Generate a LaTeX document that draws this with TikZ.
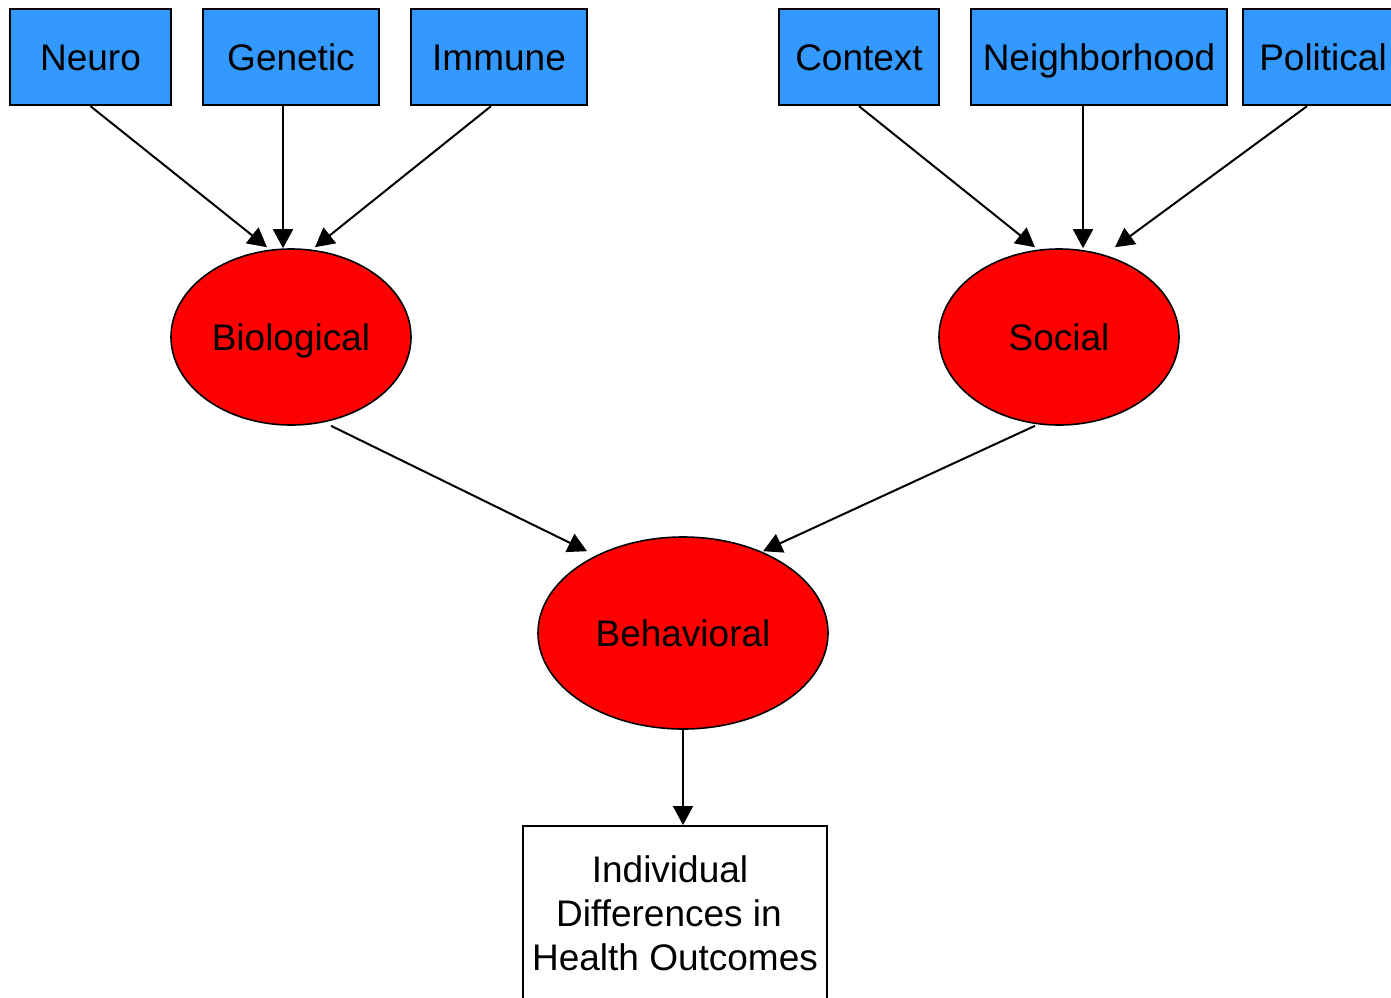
\documentclass[tikz,border=0pt]{standalone}
\usepackage{fontspec}
\setmainfont{Liberation Sans}
\usepackage{tikz}
\usetikzlibrary{positioning,arrows.meta,calc,shapes.geometric}
\usepackage{xcolor}
\definecolor{boxblue}{HTML}{3399FF}
\definecolor{ovalred}{HTML}{FF0000}

\begin{document}
\begin{tikzpicture}[
  x=0.5pt,y=-0.5pt,
  font=\fontsize{18.5}{22}\selectfont,>={Triangle[length=9.5pt,width=10pt]},
  label text/.style={text height=17pt,text depth=3.75pt},
  factor/.style={draw,line width=1.2pt,fill=boxblue,minimum height=48pt,inner sep=0pt,label text},
  level/.style={draw,ellipse,line width=0.8pt,fill=ovalred,inner sep=0pt,label text},
  result/.style={draw,line width=1.2pt,fill=white,align=center,inner sep=0pt,
                 minimum width=152pt,minimum height=87pt},
  arr/.style={->,line width=1pt},
]
  \useasboundingbox (0,0) rectangle (1391,997);

  % top row: biological factors
  \node[factor,minimum width=80.5pt] (neuro)   at (90.5,57) {Neuro};
  \node[factor,minimum width=88pt]   (genetic) at (291,57)  {Genetic};
  \node[factor,minimum width=88pt]   (immune)  at (499,57)  {Immune};

  % top row: social factors
  \node[factor,minimum width=80pt]  (context)   at (859,57)  {Context};
  \node[factor,minimum width=128pt] (hood)      at (1099,57) {Neighborhood};
  \node[factor,minimum width=80pt]  (political) at (1323,57) {Political};

  % middle levels
  \node[level,minimum width=120pt,minimum height=88pt] (bio)    at (291,337)  {Biological};
  \node[level,minimum width=120pt,minimum height=88pt] (social) at (1059,337) {Social};
  \node[level,minimum width=145pt,minimum height=96pt] (behav)  at (683,633)  {Behavioral};

  \node[result,anchor=north] (outcome) at (675,825)
    {Individual\hspace*{5pt}\\Differences in\kern6pt\\Health Outcomes};

  \draw[arr] (neuro.south) -- ($(bio.north)+(-24,-1)$);
  \draw[arr] ($(genetic.south)+(-8,0)$) -- ($(bio.north)+(-8,0)$);
  \draw[arr] ($(immune.south)+(-8,0)$) -- ($(bio.north)+(24,-1)$);

  \draw[arr] (context.south) -- ($(social.north)+(-24,-1)$);
  \draw[arr] ($(hood.south)+(-16,0)$) -- ($(social.north)+(24,0)$);
  \draw[arr] ($(political.south)+(-16,0)$) -- ($(social.north)+(56,-1)$);

  \draw[arr] ($(bio.south)+(40,0)$) -- ($(behav.north)+(-96,15)$);
  \draw[arr] ($(social.south)+(-24,0)$) -- ($(behav.north)+(80,15)$);

  \draw[arr] (behav.south) -- ($(outcome.north)+(8,0)$);
\end{tikzpicture}
\end{document}
